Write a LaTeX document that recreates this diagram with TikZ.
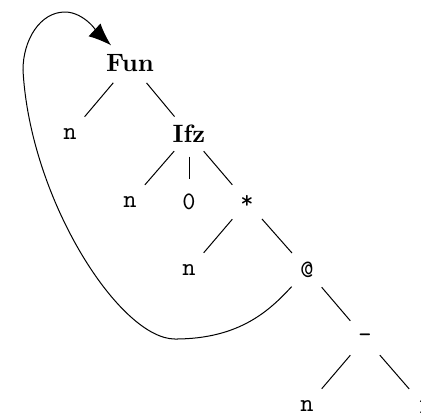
\documentclass[tikz,border=0pt]{standalone}
\usepackage{tikz}
\usetikzlibrary{arrows.meta}

\begin{document}
\begin{tikzpicture}[x=0.014cm, y=-0.014cm,
    kw/.style={circle, inner sep=0pt, minimum size=0.62cm, font=\bfseries},
    tok/.style={circle, inner sep=0pt, minimum size=0.62cm, font=\ttfamily},
    back/.style={-{Latex[length=9pt, width=7pt]}}]
  \clip (0,0) rectangle (421,416);
  %--- Nodes of the tree
  \node[kw]  (fun)   at (130,63)  {Fun};
  \node[tok] (n1)    at (70,134)  {n};
  \node[kw]  (ifz)   at (189,134) {Ifz};
  \node[tok] (n2)    at (130,202) {n};
  \node[tok] (zero)  at (189,202) {0};
  \node[tok] (mul)   at (247,202) {*};
  \node[tok] (n3)    at (189,270) {n};
  \node[tok] (app)   at (307,270) {@};
  \node[tok] (minus) at (365,338) {-};
  \node[tok] (n4)    at (307,406) {n};
  \node[tok] (one)   at (424,406) {1};
  %--- Edges
  \draw (fun) -- (n1);
  \draw (fun) -- (ifz);
  \draw (ifz) -- (n2);
  \draw (ifz) -- (zero);
  \draw (ifz) -- (mul);
  \draw (mul) -- (n3);
  \draw (mul) -- (app);
  \draw (app) -- (minus);
  \draw (minus) -- (n4);
  \draw (minus) -- (one);
  %--- Back link from @ to Fun
  \draw[back] (app) .. controls (270,310) and (240,339) .. (175,339)
    .. controls (120,339) and (30,200) .. (23,70)
    .. controls (23,40) and (40,12) .. (65,12)
    .. controls (85,12) and (100,35) .. (fun);
\end{tikzpicture}
\end{document}
